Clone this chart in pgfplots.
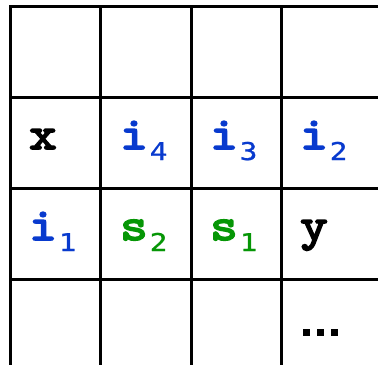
\documentclass[border=0pt]{standalone}
\usepackage{fontspec}
\usepackage{xcolor}
\usepackage{graphicx}
\usepackage{pgfplots}
\pgfplotsset{compat=1.18}
\newfontfamily\cellfont{lmmono10-regular.otf}[FakeBold=3.5]
\newfontfamily\subfont{DejaVu Sans Mono}[FakeBold=0.8]
\definecolor{cellBlue}{RGB}{8,58,206}
\definecolor{cellGreen}{RGB}{6,150,6}
% letter, subscript
\newcommand{\cell}[2]{\scalebox{1.14}[1]{\fontsize{46}{46}\cellfont #1}\kern2pt\raisebox{-11pt}{\scalebox{1.2}[1]{\fontsize{24.5}{24.5}\subfont #2}}}
\newcommand{\sqdot}{\rule{7pt}{7pt}}
\begin{document}
\begin{tikzpicture}
\begin{axis}[
  width=378pt, height=365pt, scale only axis,
  xmin=0, xmax=378, ymin=0, ymax=365, y dir=reverse,
  axis lines=none, ticks=none, clip=false,
  gridline/.style={black, line width=3pt, line cap=rect, no markers},
]
% grid lines, open on the right and at the bottom
\addplot[gridline] coordinates {(10,6) (376,6)};
\addplot[gridline] coordinates {(10,97) (376,97)};
\addplot[gridline] coordinates {(10,188) (376,188)};
\addplot[gridline] coordinates {(10,279) (376,279)};
\addplot[gridline] coordinates {(10,6) (10,363)};
\addplot[gridline] coordinates {(100,6) (100,363)};
\addplot[gridline] coordinates {(191,6) (191,363)};
\addplot[gridline] coordinates {(281,6) (281,363)};
\coordinate (ll) at (axis cs:0,365);
\coordinate (ur) at (axis cs:378,0);
% row 2
\node[anchor=base west, inner sep=0pt, text=black] at (axis cs:29,149) {\cell{x}{}};
\node[anchor=base west, inner sep=0pt, text=cellBlue] at (axis cs:120,149) {\cell{i}{4}};
\node[anchor=base west, inner sep=0pt, text=cellBlue] at (axis cs:210,149) {\cell{i}{3}};
\node[anchor=base west, inner sep=0pt, text=cellBlue] at (axis cs:300,149) {\cell{i}{2}};
% row 3
\node[anchor=base west, inner sep=0pt, text=cellBlue] at (axis cs:29,240) {\cell{i}{1}};
\node[anchor=base west, inner sep=0pt, text=cellGreen] at (axis cs:120,240) {\cell{s}{2}};
\node[anchor=base west, inner sep=0pt, text=cellGreen] at (axis cs:210,240) {\cell{s}{1}};
\node[anchor=base west, inner sep=0pt, text=black] at (axis cs:300,240) {\cell{y}{}};
% row 4
\node[anchor=base west, inner sep=0pt, text=black] at (axis cs:303,336) {\sqdot\hspace{7pt}\sqdot\hspace{7pt}\sqdot};
\end{axis}
\pgfresetboundingbox
\path (ll) rectangle (ur);
\end{tikzpicture}
\end{document}
